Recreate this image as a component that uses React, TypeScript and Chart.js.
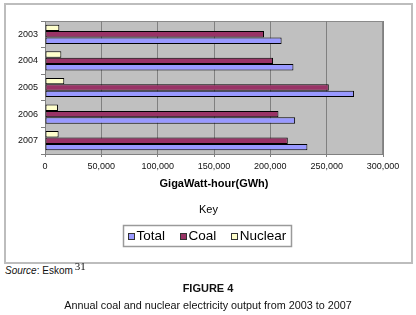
import React, { useEffect, useRef } from 'react';
import { Chart, registerables } from 'chart.js';

Chart.register(...registerables);

const FONT = 'Arial, "Liberation Sans", sans-serif';

// ---- data ----
const years = ['2003', '2004', '2005', '2006', '2007'];
const totalGWh = [210000, 220500, 274300, 222000, 232900];
const coalGWh = [194400, 202400, 251900, 207200, 215500];
const nuclearGWh = [12700, 14500, 17100, 11500, 12100];
const xTickValues = [0, 50000, 100000, 150000, 200000, 250000, 300000];
const seriesNames = ['Total', 'Coal', 'Nuclear'];
const seriesColors = ['#9999ff', '#993366', '#ffffcc'];
const axisTitle = 'GigaWatt-hour(GWh)';
const keyTitle = 'Key';

const fmt = (v: number) => v.toLocaleString('en-US');

const plotBg = {
  id: 'plotBg',
  beforeDraw(chart: any) {
    const { ctx, chartArea: a } = chart;
    ctx.save();
    ctx.fillStyle = '#c0c0c0';
    ctx.fillRect(a.left, a.top, a.right - a.left, a.bottom - a.top);
    ctx.strokeStyle = '#8a8a8a';
    ctx.lineWidth = 1;
    ctx.strokeRect(Math.round(a.left) + 0.5, Math.round(a.top) + 0.5, Math.round(a.right - a.left) - 1, Math.round(a.bottom - a.top));
    ctx.restore();
  },
};

const keyLegend = {
  id: 'keyLegend',
  afterDraw(chart: any) {
    const ctx = chart.ctx;
    const items = chart.data.datasets
      .map((d: any) => ({ label: d.label, color: d.backgroundColor }))
      .reverse();
    const cx = 201;
    ctx.save();
    ctx.fillStyle = '#000';
    ctx.textBaseline = 'middle';
    ctx.textAlign = 'center';
    ctx.font = `11px ${FONT}`;
    ctx.fillText(keyTitle, 202.5, 205);

    ctx.font = `13.5px ${FONT}`;
    const box = 6;
    const gap = 2.5;
    const spacing = 15;
    const widths = items.map((it: any) => box + gap + ctx.measureText(it.label).width);
    const group = widths.reduce((s: number, w: number) => s + w, 0) + spacing * (items.length - 1);
    const padX = 5;
    const bw = group + padX * 2;
    const left = Math.round(cx - bw / 2);
    const top = 220;
    const bh = 21;
    ctx.fillStyle = '#fff';
    ctx.fillRect(left, top, bw, bh);
    ctx.strokeStyle = '#9a9a9a';
    ctx.lineWidth = 1.5;
    ctx.strokeRect(left + 0.5, top + 0.5, Math.round(bw), bh);
    const cy = top + bh / 2 + 0.5;
    let x = left + padX;
    ctx.textAlign = 'left';
    items.forEach((it: any, i: number) => {
      ctx.fillStyle = it.color;
      ctx.fillRect(Math.round(x) + 0.5, Math.round(cy - box / 2) + 0.5, box, box);
      ctx.strokeStyle = '#333';
      ctx.lineWidth = 1;
      ctx.strokeRect(Math.round(x) + 0.5, Math.round(cy - box / 2) + 0.5, box, box);
      ctx.fillStyle = '#000';
      ctx.fillText(it.label, x + box + gap, cy);
      x += widths[i] + spacing;
    });
    ctx.restore();
  },
};

export default function App() {
  const ref = useRef<HTMLCanvasElement | null>(null);

  useEffect(() => {
    if (!ref.current) return;
    Chart.defaults.font.family = FONT;
    const seriesData = [totalGWh, coalGWh, nuclearGWh];
    // drawn order top-to-bottom inside each category: Nuclear, Coal, Total
    const order = [2, 1, 0];
    const chart = new Chart(ref.current, {
      type: 'bar',
      data: {
        labels: years,
        datasets: order.map((i) => ({
          label: seriesNames[i],
          data: seriesData[i],
          backgroundColor: seriesColors[i],
          borderColor: '#000',
          borderWidth: 1,
          borderSkipped: false,
          categoryPercentage: 0.72,
          barPercentage: 1.0,
        })),
      },
      options: {
        indexAxis: 'y',
        responsive: false,
        animation: false,
        devicePixelRatio: 1,
        layout: { padding: { top: 16, right: 28, bottom: 63, left: 0 } },
        plugins: {
          legend: { display: false },
          tooltip: { enabled: false },
        },
        scales: {
          x: {
            type: 'linear',
            min: 0,
            max: 300000,
            afterFit: (s: any) => { s.height = 45; },
            afterBuildTicks: (s: any) => { s.ticks = xTickValues.map((v) => ({ value: v })); },
            ticks: {
              color: '#111',
              font: { size: 9, family: FONT },
              padding: 4,
              callback: (v: any) => fmt(Number(v)),
              maxRotation: 0,
            },
            grid: { color: '#808080', lineWidth: 1, tickLength: 3, drawTicks: true },
            border: { display: true, color: '#808080' },
            title: {
              display: true,
              text: axisTitle,
              color: '#000',
              font: { size: 11, weight: 'bold', family: FONT },
              padding: { top: 0, bottom: 8 },
            },
          },
          y: {
            afterFit: (s: any) => { s.width = 39; },
            ticks: { color: '#111', font: { size: 9, family: FONT }, padding: 3 },
            grid: { drawOnChartArea: false, color: '#808080', tickLength: 4, offset: true },
            border: { display: true, color: '#808080' },
          },
        },
      },
      plugins: [plotBg, keyLegend],
    });
    return () => chart.destroy();
  }, []);

  return (
    <div style={{ position: 'absolute', left: 0, top: 0, width: 416, height: 315, background: '#fff', fontFamily: FONT, color: '#111' }}>
      <div style={{ position: 'absolute', left: 4, top: 3, width: 409, height: 261, boxSizing: 'border-box', border: '2px solid #bdbdbd' }}>
        <canvas ref={ref} width={405} height={257} style={{ display: 'block', width: 405, height: 257 }} />
      </div>
      <div style={{ position: 'absolute', left: 5, top: 264, fontSize: 10, lineHeight: '13px', whiteSpace: 'nowrap' }}>
        <i>Source</i>: Eskom
        <span style={{ fontFamily: '"Liberation Serif", "DejaVu Serif", serif', fontSize: 11, position: 'relative', top: -4, marginLeft: 2 }}>31</span>
      </div>
      <div style={{ position: 'absolute', left: 0, top: 281, width: 416, textAlign: 'center', fontSize: 11, fontWeight: 'bold', lineHeight: '14px' }}>
        FIGURE 4
      </div>
      <div style={{ position: 'absolute', left: 0, top: 298, width: 416, textAlign: 'center', fontSize: 10.8, lineHeight: '14px', whiteSpace: 'nowrap' }}>
        Annual coal and nuclear electricity output from 2003 to 2007
      </div>
    </div>
  );
}
